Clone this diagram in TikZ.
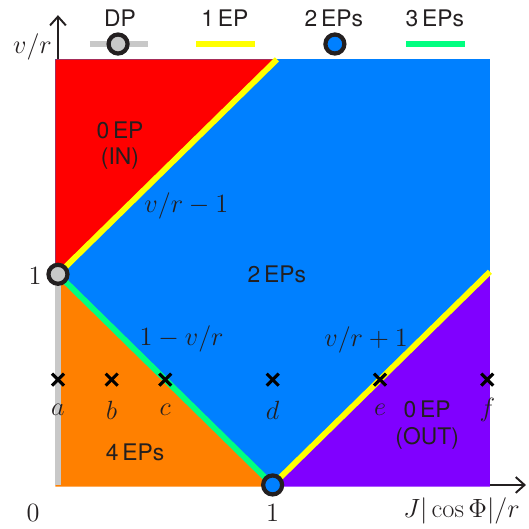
\documentclass[tikz,border=0pt]{standalone}
\usepackage{fix-cm}
\usepackage{fontspec}
\newfontfamily\labelfont{TeX Gyre Heros}
\usetikzlibrary{arrows.meta}

\definecolor{colRed}{RGB}{255,0,0}
\definecolor{colBlue}{RGB}{0,128,255}
\definecolor{colOrange}{RGB}{255,128,0}
\definecolor{colPurple}{RGB}{128,0,255}
\definecolor{colYellow}{RGB}{255,255,0}
\definecolor{colGreen}{RGB}{0,255,128}
\definecolor{colGray}{RGB}{200,200,200}
\definecolor{colText}{RGB}{35,31,32}

\tikzset{
    phase/.style={font=\labelfont\fontsize{13}{15}\selectfont, text=colText, align=center, inner sep=0pt},
    mathlbl/.style={font=\fontsize{15}{17}\selectfont, text=colText, inner sep=0pt},
    axis/.style={line width=1.1pt, colText, -{Straight Barb[length=5pt,width=9pt,line width=1.1pt]}},
    epline/.style={line width=3.3pt},
    epdot/.style={line width=2.4pt, draw=colText},
    cross/.style={line width=1.8pt}
}

\begin{document}
\begin{tikzpicture}[x=4.294cm, y=4.214cm]
    \useasboundingbox (-0.270,-0.209) rectangle (2.194,2.302);

    % Axes
    \draw[axis] (0,0) -- (2.18,0);
    \draw[axis] (0,0) -- (0,2.23);

    % Regions
    \fill[colBlue] (-0.012,0) rectangle (2.012,2.02);
    \fill[colRed] (-0.012,1) -- (-0.012,2.02) -- (1.02,2.02) -- cycle;
    \fill[colOrange] (-0.012,-0.008) -- (-0.012,1) -- (1,-0.008) -- cycle;
    \fill[colPurple] (1,-0.008) -- (2.012,-0.008) -- (2.012,1.012) -- cycle;

    % Boundary lines
    \draw[epline, colGray] (0,0) -- (0,1);
    \draw[epline, colYellow] (0,1) -- (1.02,2.02);
    \draw[epline, colYellow] (1,0) -- (2.012,1.012);
    \draw[epline, colGreen] (0,1) -- (1,0);

    % Special points
    \filldraw[epdot, fill=colGray] (0,1) circle (0.19cm);
    \filldraw[epdot, fill=colBlue] (1,0) circle (0.19cm);

    % Sample points
    \foreach \x/\lbl in {0/a, 0.25/b, 0.5/c, 1/d, 1.5/e, 2/f} {
        \draw[cross] (\x,0.5) ++(-0.12cm,-0.12cm) -- ++(0.24cm,0.24cm);
        \draw[cross] (\x,0.5) ++(-0.12cm,0.12cm) -- ++(0.24cm,-0.24cm);
        \node[mathlbl] (pt\lbl) at (\x,0.355) {$\lbl$};
    }

    % Legend
    \draw[epline, colGray] (0.149,2.093) -- (0.419,2.093);
    \filldraw[epdot, fill=colGray] (0.28,2.093) circle (0.19cm);
    \node[phase] (legDP) at (0.289,2.214) {DP};
    \draw[epline, colYellow] (0.643,2.093) -- (0.918,2.093);
    \node[phase] (legOne) at (0.778,2.214) {1\,EP};
    \filldraw[epdot, fill=colBlue] (1.29,2.093) circle (0.19cm);
    \node[phase] (legTwo) at (1.285,2.214) {2\,EPs};
    \draw[epline, colGreen] (1.621,2.093) -- (1.896,2.093);
    \node[phase] (legThree) at (1.756,2.214) {3\,EPs};

    % Region labels
    \node[phase] (regIn) at (0.289,1.61) {0\,EP\\(IN)};
    \node[phase] (regTwo) at (1.02,1.0) {2\,EPs};
    \node[phase] (regFour) at (0.359,0.157) {4\,EPs};
    \node[phase] (regOut) at (1.72,0.285) {0\,EP\\(OUT)};

    % Line labels
    \node[mathlbl] (lblUp) at (0.598,1.324) {$v/r-1$};
    \node[mathlbl] (lblDown) at (0.576,0.695) {$1-v/r$};
    \node[mathlbl] (lblRight) at (1.435,0.69) {$v/r+1$};

    % Axis labels
    \node[mathlbl] (zero) at (-0.116,-0.133) {$0$};
    \node[mathlbl] (xone) at (1.0,-0.133) {$1$};
    \node[mathlbl] (yone) at (-0.107,0.99) {$1$};
    \node[mathlbl] (ylab) at (-0.119,2.08) {$v/r$};
    \node[mathlbl, anchor=east] (xlab) at (2.152,-0.125) {$J|\cos\Phi|/r$};
\end{tikzpicture}
\end{document}
